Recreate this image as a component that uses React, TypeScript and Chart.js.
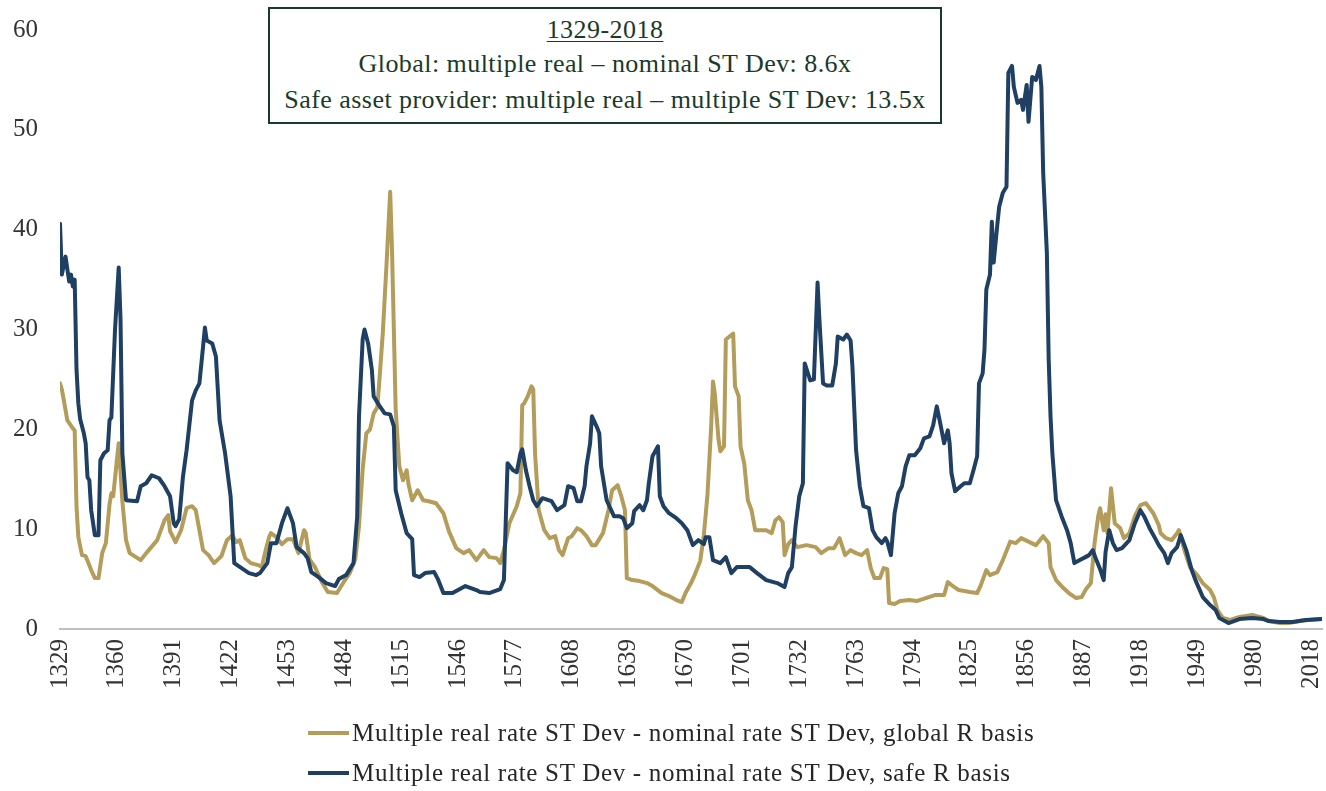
import React, { useEffect, useRef } from "react";
import { Chart, registerables } from "chart.js";

Chart.register(...registerables);

const tickLabels = ["1329","1360","1391","1422","1453","1484","1515","1546","1577","1608","1639","1670","1701","1732","1763","1794","1825","1856","1887","1918","1949","1980","2018"];

const seriesNames = [
  "Multiple real rate ST Dev - nominal rate ST Dev, global R basis",
  "Multiple real rate ST Dev - nominal rate ST Dev, safe R basis",
];

const annotationLines = [
  "1329-2018",
  "Global: multiple real \u2013 nominal ST Dev: 8.6x",
  "Safe asset provider: multiple real \u2013 multiple ST Dev: 13.5x",
];

const globalYears = [1329,1330,1331,1333,1336,1337,1338,1339,1341,1343,1346,1348,1350,1352,1354,1356,1357,1358,1360,1361,1363,1365,1367,1373,1376,1382,1386,1388,1389,1392,1395,1398,1401,1403,1407,1410,1413,1417,1420,1423,1425,1427,1430,1433,1437,1439,1441,1443,1444,1447,1450,1453,1456,1459,1462,1463,1465,1468,1472,1475,1480,1484,1487,1490,1492,1494,1496,1498,1500,1502,1503,1505,1507,1509,1510,1511,1512,1514,1516,1518,1519,1521,1524,1527,1530,1534,1538,1541,1545,1549,1552,1556,1560,1563,1567,1569,1571,1574,1578,1580,1581,1582,1584,1586,1587,1588,1590,1593,1596,1599,1601,1603,1606,1608,1611,1613,1616,1619,1621,1625,1628,1630,1633,1635,1637,1638,1641,1645,1649,1652,1657,1661,1665,1668,1670,1673,1675,1678,1680,1682,1684,1685,1686,1688,1689,1691,1692,1694,1696,1697,1699,1700,1702,1704,1706,1708,1714,1717,1719,1721,1723,1724,1726,1728,1731,1736,1741,1744,1748,1751,1754,1757,1760,1763,1766,1769,1771,1773,1776,1778,1780,1781,1784,1787,1792,1796,1801,1806,1811,1813,1815,1819,1825,1829,1831,1834,1836,1840,1843,1847,1850,1853,1857,1861,1865,1868,1869,1872,1876,1879,1883,1886,1888,1891,1893,1895,1896,1898,1899,1900,1902,1904,1907,1909,1912,1915,1918,1921,1925,1928,1929,1932,1935,1938,1939,1942,1945,1949,1952,1956,1958,1960,1963,1967,1972,1979,1985,1988,1994,1999,2005,2010,2017];
const globalValues = [24.6,24.0,23.0,20.9,20.1,19.9,12.3,9.2,7.4,7.3,5.9,5.1,5.1,7.6,8.6,12.5,13.6,13.3,16.9,18.6,12.8,8.9,7.6,6.9,7.6,8.9,10.9,11.4,9.8,8.7,9.9,12.1,12.3,11.9,7.9,7.4,6.6,7.3,8.9,9.4,8.7,8.9,7.1,6.6,6.4,6.2,7.8,9.2,9.6,9.2,8.5,9.0,9.0,7.6,9.9,9.6,7.0,6.2,4.6,3.7,3.6,4.8,5.6,7.0,10.3,16.0,19.6,20.0,21.6,22.2,24.6,29.7,36.5,43.8,38.0,30.0,22.0,16.3,14.9,15.9,14.5,12.9,13.9,12.9,12.8,12.6,11.6,9.8,8.1,7.6,7.9,6.9,7.9,7.2,7.1,6.6,7.9,10.6,12.3,13.6,22.4,22.6,23.3,24.3,24.0,17.5,11.9,9.9,9.1,9.3,7.9,7.4,9.1,9.3,10.1,9.9,9.3,8.4,8.4,9.6,11.9,13.9,14.4,13.3,11.9,5.1,4.9,4.8,4.6,4.3,3.6,3.3,2.9,2.7,3.6,4.6,5.4,6.8,9.4,13.5,20.3,24.8,23.5,19.0,17.8,18.3,29.0,29.3,29.6,24.3,23.3,18.3,16.6,12.9,11.9,9.9,9.9,9.6,10.9,11.2,10.7,7.4,8.5,8.9,8.2,8.4,8.2,7.6,8.1,8.1,9.1,7.4,7.9,7.6,7.4,7.9,6.1,5.1,5.1,6.1,6.0,2.6,2.5,2.8,2.9,2.8,3.1,3.4,3.4,4.7,4.4,3.9,3.7,3.6,4.4,5.9,5.4,5.7,6.9,8.75,8.6,9.1,8.75,8.4,9.3,8.6,6.2,4.9,4.1,3.6,3.1,3.2,3.9,4.6,8.6,11.3,12.1,9.9,11.5,9.6,14.1,10.6,10.1,9.1,9.6,11.3,12.4,12.6,11.6,10.4,9.6,9.1,8.9,9.6,9.9,7.9,6.2,5.4,4.6,3.9,3.2,1.9,1.1,0.9,1.2,1.4,1.1,0.8,0.6,0.6,0.8,0.9,1.0];

const safeYears = [1329,1330,1332,1334,1335,1336,1337,1338,1339,1340,1342,1343,1344,1345,1346,1348,1350,1351,1353,1355,1356,1357,1359,1361,1362,1363,1365,1371,1373,1376,1379,1383,1386,1389,1391,1392,1394,1396,1398,1401,1403,1405,1407,1408,1409,1412,1414,1416,1419,1422,1424,1428,1432,1436,1438,1442,1444,1447,1450,1453,1456,1458,1462,1464,1466,1470,1474,1479,1481,1485,1489,1491,1492,1494,1495,1497,1499,1500,1503,1506,1509,1511,1512,1515,1518,1521,1522,1525,1528,1533,1535,1538,1543,1550,1556,1558,1563,1569,1571,1573,1576,1578,1580,1581,1583,1585,1587,1589,1592,1597,1600,1604,1606,1609,1611,1613,1615,1616,1618,1619,1622,1623,1624,1627,1631,1634,1636,1638,1641,1642,1645,1647,1649,1650,1652,1655,1656,1658,1661,1665,1668,1671,1674,1677,1680,1681,1683,1685,1689,1692,1695,1698,1705,1709,1714,1720,1724,1726,1728,1730,1732,1734,1735,1738,1740,1742,1743,1745,1747,1750,1752,1753,1756,1758,1760,1761,1763,1765,1767,1770,1772,1774,1777,1779,1780,1782,1784,1786,1788,1790,1792,1795,1798,1800,1803,1805,1807,1809,1811,1813,1814,1815,1817,1820,1822,1825,1827,1829,1830,1832,1833,1834,1836,1837,1838,1840,1841,1843,1845,1846,1848,1849,1851,1853,1854,1856,1857,1859,1861,1863,1864,1865,1867,1868,1869,1870,1872,1875,1878,1880,1882,1885,1888,1890,1892,1894,1896,1898,1899,1901,1903,1905,1908,1912,1915,1918,1920,1923,1926,1928,1931,1933,1935,1938,1940,1943,1946,1948,1952,1956,1959,1961,1966,1972,1979,1985,1988,1994,2001,2008,2017];
const safeValues = [40.6,35.5,37.3,34.8,35.5,34.3,35.0,26.0,22.6,21.0,19.6,18.6,15.2,14.9,11.9,9.4,9.4,16.9,17.6,17.9,20.9,21.2,30.0,36.2,31.0,17.6,12.9,12.8,14.3,14.6,15.4,15.1,14.3,13.3,10.6,10.3,11.0,15.2,17.9,22.9,23.9,24.6,28.3,30.2,28.9,28.6,27.3,20.9,17.6,13.3,6.6,6.1,5.6,5.4,5.6,6.6,8.6,8.6,10.6,12.1,10.6,8.2,7.6,7.1,5.7,5.2,4.6,4.3,5.0,5.4,6.6,11.2,21.3,29.0,30.0,28.6,26.0,23.3,22.4,21.6,21.5,20.3,13.9,11.6,9.6,9.0,5.4,5.2,5.6,5.7,5.0,3.6,3.6,4.3,3.9,3.7,3.6,4.0,4.9,16.6,15.9,15.7,17.6,18.0,15.9,14.3,12.9,12.3,13.1,12.8,11.9,12.4,14.3,14.1,12.8,12.8,14.3,16.3,18.6,21.3,20.1,19.6,16.3,12.9,11.3,11.3,11.1,10.1,10.6,11.8,12.4,11.9,12.9,14.6,17.3,18.3,13.3,12.3,11.6,11.1,10.6,9.9,8.4,8.9,8.5,9.2,9.2,6.9,6.6,7.2,5.6,6.2,6.2,5.6,4.9,4.6,4.2,5.6,6.2,10.3,13.3,14.6,26.6,24.9,25.0,34.7,31.0,24.6,24.4,24.4,26.6,29.3,29.0,29.5,28.9,26.3,17.9,14.3,12.3,12.1,9.9,9.2,8.6,9.1,8.75,7.4,11.6,13.6,14.3,16.3,17.4,17.4,18.1,19.1,19.3,20.4,22.3,20.5,18.6,19.9,18.6,15.6,13.8,14.3,14.6,14.6,15.9,17.3,24.6,25.6,28.0,34.0,35.5,40.8,36.7,40.5,42.3,43.7,44.3,55.7,56.4,54.3,52.7,53.0,52.0,54.5,50.8,55.3,55.0,56.4,54.3,45.7,37.7,27.0,21.3,17.6,12.9,11.3,9.9,8.6,6.6,6.9,7.2,7.4,7.9,6.9,6.0,4.9,7.7,9.9,8.6,7.9,8.1,8.9,10.6,11.9,11.3,10.1,9.1,8.4,7.6,6.6,7.6,8.2,9.4,7.9,5.9,4.9,3.2,2.4,1.9,1.1,0.6,1.0,1.1,1.0,0.8,0.7,0.7,0.9,1.0];

const GOLD = "#B49D5A";
const NAVY = "#1F4063";
const FONT = "'Liberation Serif', 'Times New Roman', serif";
const BOX_COLOR = "#1A3A2A";

export default function App() {
  const canvasRef = useRef<HTMLCanvasElement | null>(null);

  useEffect(() => {
    const canvas = canvasRef.current;
    if (!canvas) return;
    const chart = new Chart(canvas, {
      type: "line",
      data: {
        datasets: [
          {
            label: seriesNames[0],
            data: globalYears.map((x, i) => ({ x, y: globalValues[i] })),
            borderColor: GOLD,
            backgroundColor: GOLD,
            borderWidth: 4,
            pointRadius: 0,
            tension: 0,
            borderJoinStyle: "round",
            borderCapStyle: "round",
            order: 2,
          },
          {
            label: seriesNames[1],
            data: safeYears.map((x, i) => ({ x, y: safeValues[i] })),
            borderColor: NAVY,
            backgroundColor: NAVY,
            borderWidth: 4,
            pointRadius: 0,
            tension: 0,
            borderJoinStyle: "round",
            borderCapStyle: "round",
            order: 1,
          },
        ],
      },
      options: {
        responsive: false,
        animation: false,
        devicePixelRatio: 1,
        layout: { padding: { left: 0, right: 4, top: 30, bottom: 0 } },
        plugins: { legend: { display: false }, tooltip: { enabled: false } },
        scales: {
          x: {
            type: "linear",
            min: 1329,
            max: 2017,
            grid: { display: false, drawTicks: false },
            border: { display: true, color: "#BFBFBF", width: 2 },
            afterBuildTicks: (scale: any) => {
              scale.ticks = tickLabels.map((_, i) => ({ value: 1329 + 31 * i }));
            },
            afterFit: (scale: any) => {
              scale.height = 162;
              scale.paddingLeft = 0;
              scale.paddingRight = 0;
            },
            ticks: {
              autoSkip: false,
              minRotation: 90,
              maxRotation: 90,
              padding: 10,
              color: "#333333",
              font: { family: FONT, size: 25 },
              callback: (_v: any, index: number) => tickLabels[index],
            },
          },
          y: {
            min: 0,
            max: 60,
            grid: { display: false, drawTicks: false },
            border: { display: false },
            afterFit: (scale: any) => {
              scale.width = 60;
              scale.paddingTop = 0;
              scale.paddingBottom = 0;
            },
            ticks: {
              stepSize: 10,
              padding: 22,
              color: "#333333",
              font: { family: FONT, size: 25 },
            },
          },
        },
      },
    });
    return () => chart.destroy();
  }, []);

  const lineTops = [6, 40, 76];

  return (
    <div style={{ position: "fixed", left: 0, top: 0, width: 1326, height: 791, background: "#ffffff", overflow: "hidden" }}>
      <canvas ref={canvasRef} width={1326} height={791} style={{ position: "absolute", left: 0, top: 0 }} />
      <div
        style={{
          position: "absolute",
          left: 268,
          top: 7,
          width: 674,
          height: 117,
          boxSizing: "border-box",
          border: `2px solid ${BOX_COLOR}`,
          background: "#ffffff",
          fontFamily: FONT,
          color: BOX_COLOR,
          fontSize: 26,
          letterSpacing: "0.45px",
        }}
      >
        {annotationLines.map((t, i) => (
          <div
            key={i}
            style={{
              position: "absolute",
              left: 0,
              right: 0,
              top: lineTops[i],
              lineHeight: "30px",
              textAlign: "center",
              whiteSpace: "nowrap",
              textDecoration: i === 0 ? "underline" : "none",
              textDecorationThickness: i === 0 ? "1px" : undefined,
              textUnderlineOffset: i === 0 ? "3px" : undefined,
            }}
          >
            {t}
          </div>
        ))}
      </div>
      {seriesNames.map((name, i) => (
        <div
          key={name}
          style={{
            position: "absolute",
            left: 308,
            top: i === 0 ? 718 : 758,
            height: 30,
            display: "flex",
            alignItems: "center",
            fontFamily: FONT,
            fontSize: 25,
            letterSpacing: "0.7px",
            color: "#262626",
            whiteSpace: "nowrap",
          }}
        >
          <span style={{ display: "inline-block", width: 41, height: 4, background: i === 0 ? GOLD : NAVY, marginRight: 3 }} />
          <span>{name}</span>
        </div>
      ))}
    </div>
  );
}
